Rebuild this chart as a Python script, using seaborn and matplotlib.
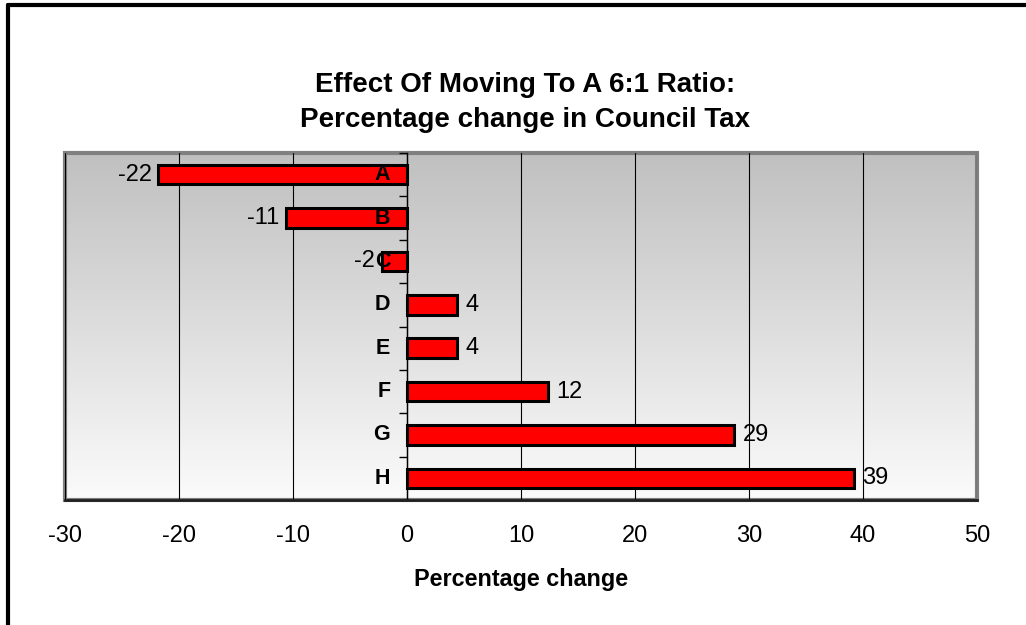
import numpy as np
import seaborn as sns
import matplotlib.pyplot as plt
import pandas as pd
from matplotlib.colors import LinearSegmentedColormap
from matplotlib.lines import Line2D
from matplotlib.patches import Rectangle

bands = ["A", "B", "C", "D", "E", "F", "G", "H"]
pct_change = [-21.8, -10.6, -2.2, 4.4, 4.4, 12.4, 28.7, 39.2]
xticks = [-30, -20, -10, 0, 10, 20, 30, 40, 50]

df = pd.DataFrame({"band": bands, "change": pct_change})

sns.set_style("white")
plt.rcParams['font.family'] = ['Liberation Sans', 'DejaVu Sans']
plt.rcParams['text.color'] = 'black'
plt.rcParams['axes.labelcolor'] = 'black'
plt.rcParams['xtick.color'] = 'black'
plt.rcParams['ytick.color'] = 'black'

fig = plt.figure(figsize=(10.26, 6.25), dpi=100)
pos = [65 / 1026, 1 - 500 / 625, 912 / 1026, 347 / 625]

# gradient plot area background
bg = fig.add_axes(pos, zorder=0)
grad = LinearSegmentedColormap.from_list("g", ["#fbfbfb", "#c0c0c0"])
bg.imshow(np.linspace(0, 1, 256).reshape(-1, 1), cmap=grad, aspect="auto",
          origin="lower", extent=[0, 1, 0, 1])
bg.set_axis_off()

ax = fig.add_axes(pos, zorder=1)
ax.patch.set_alpha(0)
sns.barplot(data=df, y="band", x="change", orient="h", color="#ff0000",
            saturation=1, edgecolor="black", linewidth=2.2, width=0.45,
            ax=ax, zorder=3)

ax.set_xlim(-30, 50)
ax.set_ylim(7.5, -0.5)
ax.set_xticks(xticks)
ax.set_xticklabels([str(t) for t in xticks], fontsize=17)
ax.xaxis.grid(True, color="black", linewidth=0.8)
ax.set_axisbelow(True)
ax.tick_params(axis="x", direction="out", length=6, width=1.2, pad=12)

# y axis sits at zero with ticks between categories
ax.spines["left"].set_position(("data", 0))
ax.spines["left"].set_color("black")
ax.spines["left"].set_linewidth(1)
ax.set_yticks(np.arange(-0.5, 8, 1))
ax.set_yticklabels([])
ax.tick_params(axis="y", direction="out", length=6, width=1, left=True)
ax.set_ylabel("")
for s in ["top", "right"]:
    ax.spines[s].set_visible(False)
ax.spines["bottom"].set_color("#202020")
ax.spines["bottom"].set_linewidth(2)

ax.add_patch(Rectangle((0, 0), 1, 1, transform=ax.transAxes, fill=False,
                       edgecolor="#808080", linewidth=3, zorder=0.5, clip_on=False))

for i, (b, v) in enumerate(zip(bands, pct_change)):
    ax.annotate(b, (0, i), xytext=(-12, 0), textcoords="offset points",
                ha="right", va="center", fontsize=15.5, fontweight="bold", zorder=5)
    if v < 0:
        ax.annotate(f"{v:.0f}", (v, i), xytext=(-5, 0), textcoords="offset points",
                    ha="right", va="center", fontsize=17)
    else:
        ax.annotate(f"{v:.0f}", (v, i), xytext=(6, 0), textcoords="offset points",
                    ha="left", va="center", fontsize=17)

ax.set_xlabel("Percentage change", fontsize=16.8, fontweight="bold", labelpad=15)

fig.text(0.512, 1 - 85 / 625, "Effect Of Moving To A 6:1 Ratio:",
         ha="center", va="center", fontsize=20, fontweight="bold")
fig.text(0.512, 1 - 120 / 625, "Percentage change in Council Tax",
         ha="center", va="center", fontsize=20, fontweight="bold")

# outer chart border (left and top edges visible)
fig.add_artist(Line2D([8 / 1026, 8 / 1026], [0, 1 - 5 / 625], color="black", linewidth=3))
fig.add_artist(Line2D([8 / 1026, 1], [1 - 5 / 625, 1 - 5 / 625], color="black", linewidth=3))

plt.savefig("out.png", dpi=100)
